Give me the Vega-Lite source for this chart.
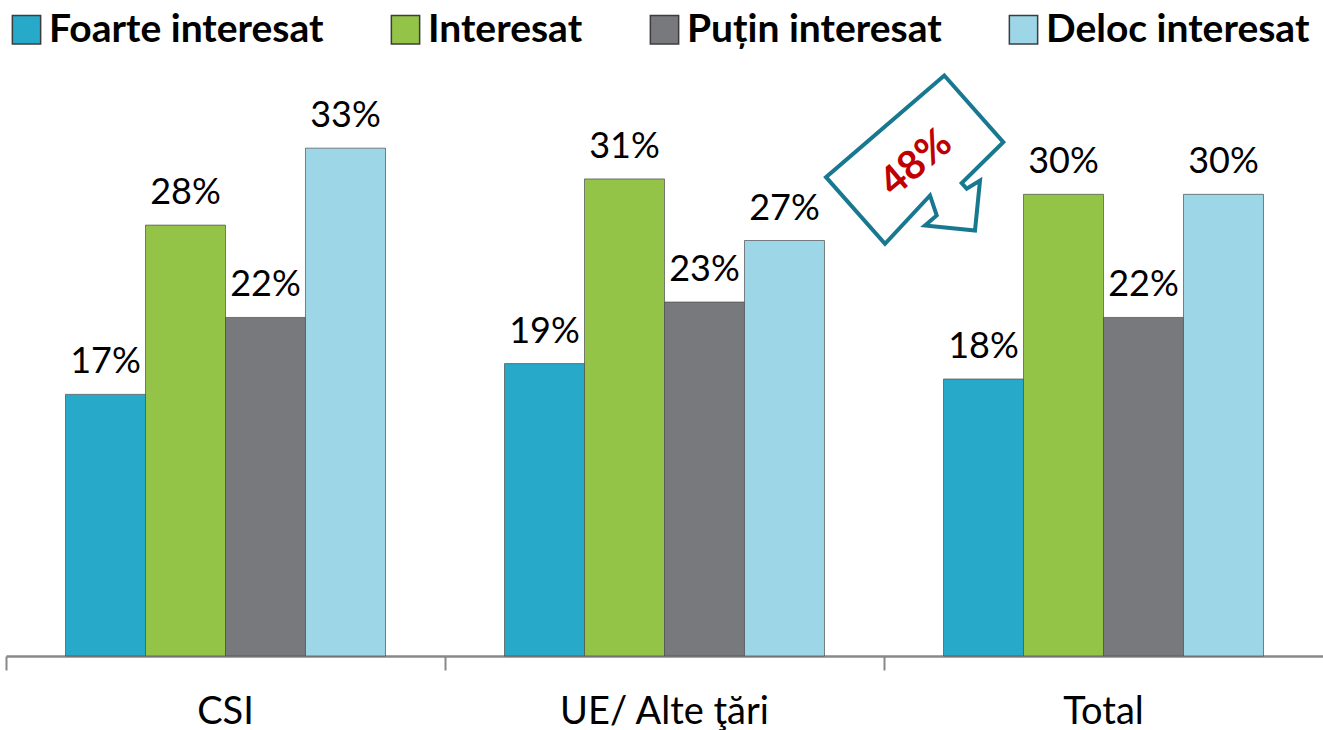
{
  "$schema": "https://vega.github.io/schema/vega-lite/v6.json",
  "width": 1317,
  "height": 554,
  "autosize": "none",
  "padding": {"left": 6, "top": 102, "right": 0, "bottom": 74},
  "background": "white",
  "config": {"view": {"stroke": null}, "font": "Lato"},
  "datasets": {
    "bars": [
      {"group": "CSI", "category": "Foarte interesat", "value": 17, "label": "17%"},
      {"group": "CSI", "category": "Interesat", "value": 28, "label": "28%"},
      {"group": "CSI", "category": "Puțin interesat", "value": 22, "label": "22%"},
      {"group": "CSI", "category": "Deloc interesat", "value": 33, "label": "33%"},
      {"group": "UE/ Alte ţări", "category": "Foarte interesat", "value": 19, "label": "19%"},
      {"group": "UE/ Alte ţări", "category": "Interesat", "value": 31, "label": "31%"},
      {"group": "UE/ Alte ţări", "category": "Puțin interesat", "value": 23, "label": "23%"},
      {"group": "UE/ Alte ţări", "category": "Deloc interesat", "value": 27, "label": "27%"},
      {"group": "Total", "category": "Foarte interesat", "value": 18, "label": "18%"},
      {"group": "Total", "category": "Interesat", "value": 30, "label": "30%"},
      {"group": "Total", "category": "Puțin interesat", "value": 22, "label": "22%"},
      {"group": "Total", "category": "Deloc interesat", "value": 30, "label": "30%"}
    ],
    "callout": [
      {"group": "Total", "value": 32.2, "label": "48%"}
    ]
  },
  "layer": [
    {
      "data": {"name": "bars"},
      "mark": {"type": "bar", "stroke": "#4d4d4d", "strokeWidth": 1, "strokeOpacity": 0.7},
      "encoding": {
        "x": {
          "field": "group", "type": "nominal", "sort": ["CSI", "UE/ Alte ţări", "Total"],
          "scale": {"paddingInner": 0, "paddingOuter": 0},
          "axis": {
            "title": null, "labelAngle": 0, "bandPosition": 0, "labelLimit": 400,
            "labelFontSize": 38, "labelFont": "Lato", "labelColor": "#000000",
            "labelPadding": 23, "tickSize": 14, "tickColor": "#888888", "tickWidth": 2,
            "domainColor": "#888888", "domainWidth": 2.5, "grid": false
          }
        },
        "xOffset": {
          "field": "category", "type": "nominal", "sort": ["Foarte interesat", "Interesat", "Puțin interesat", "Deloc interesat"],
          "scale": {"paddingInner": 0, "paddingOuter": 0.744}
        },
        "y": {
          "field": "value", "type": "quantitative",
          "scale": {"domain": [0, 36], "nice": false},
          "axis": null
        },
        "color": {
          "field": "category", "type": "nominal", "sort": ["Foarte interesat", "Interesat", "Puțin interesat", "Deloc interesat"],
          "scale": {
            "domain": ["Foarte interesat", "Interesat", "Puțin interesat", "Deloc interesat"],
            "range": ["#27AAC9", "#93C347", "#78797D", "#9DD7E7"]
          },
          "legend": {
            "title": null, "orient": "top", "direction": "horizontal", "offset": 51,
            "labelFontSize": 39, "labelFont": "Lato", "labelFontWeight": "bold", "labelColor": "#000000",
            "symbolType": "square", "symbolSize": 800, "symbolStrokeColor": "#3c3c3c", "symbolStrokeWidth": 1.5,
            "labelOffset": 3, "columnPadding": 62, "padding": 1, "labelLimit": 500
          }
        }
      }
    },
    {
      "data": {"name": "bars"},
      "mark": {"type": "text", "baseline": "alphabetic", "align": "center", "dy": -21, "fontSize": 36, "font": "Lato", "color": "#000000"},
      "encoding": {
        "x": {"field": "group", "type": "nominal", "sort": ["CSI", "UE/ Alte ţări", "Total"]},
        "xOffset": {"field": "category", "type": "nominal", "sort": ["Foarte interesat", "Interesat", "Puțin interesat", "Deloc interesat"]},
        "y": {"field": "value", "type": "quantitative"},
        "text": {"field": "label", "type": "nominal"}
      }
    },
    {
      "data": {"name": "callout"},
      "mark": {
        "type": "point",
        "shape": "M0.603,-0.85 L1.193,-0.183 L0.777,0.227 L0.827,0.283 L0.96,0.2 L0.91,0.7 L0.41,0.65 L0.527,0.55 L0.46,0.35 L0.01,0.833 L-0.58,0.167 Z",
        "size": 40000, "filled": true, "fill": "#ffffff", "stroke": "#17788F", "strokeWidth": 4, "opacity": 1, "strokeJoin": "miter"
      },
      "encoding": {
        "x": {"field": "group", "type": "nominal", "sort": ["CSI", "UE/ Alte ţări", "Total"], "bandPosition": 0},
        "y": {"field": "value", "type": "quantitative"}
      }
    },
    {
      "data": {"name": "callout"},
      "mark": {"type": "text", "angle": 320, "dx": 23, "dy": 23, "align": "center", "baseline": "middle", "fontSize": 40, "fontWeight": "bold", "font": "Lato", "color": "#C00000"},
      "encoding": {
        "x": {"field": "group", "type": "nominal", "sort": ["CSI", "UE/ Alte ţări", "Total"], "bandPosition": 0},
        "y": {"field": "value", "type": "quantitative"},
        "text": {"field": "label", "type": "nominal"}
      }
    }
  ]
}
